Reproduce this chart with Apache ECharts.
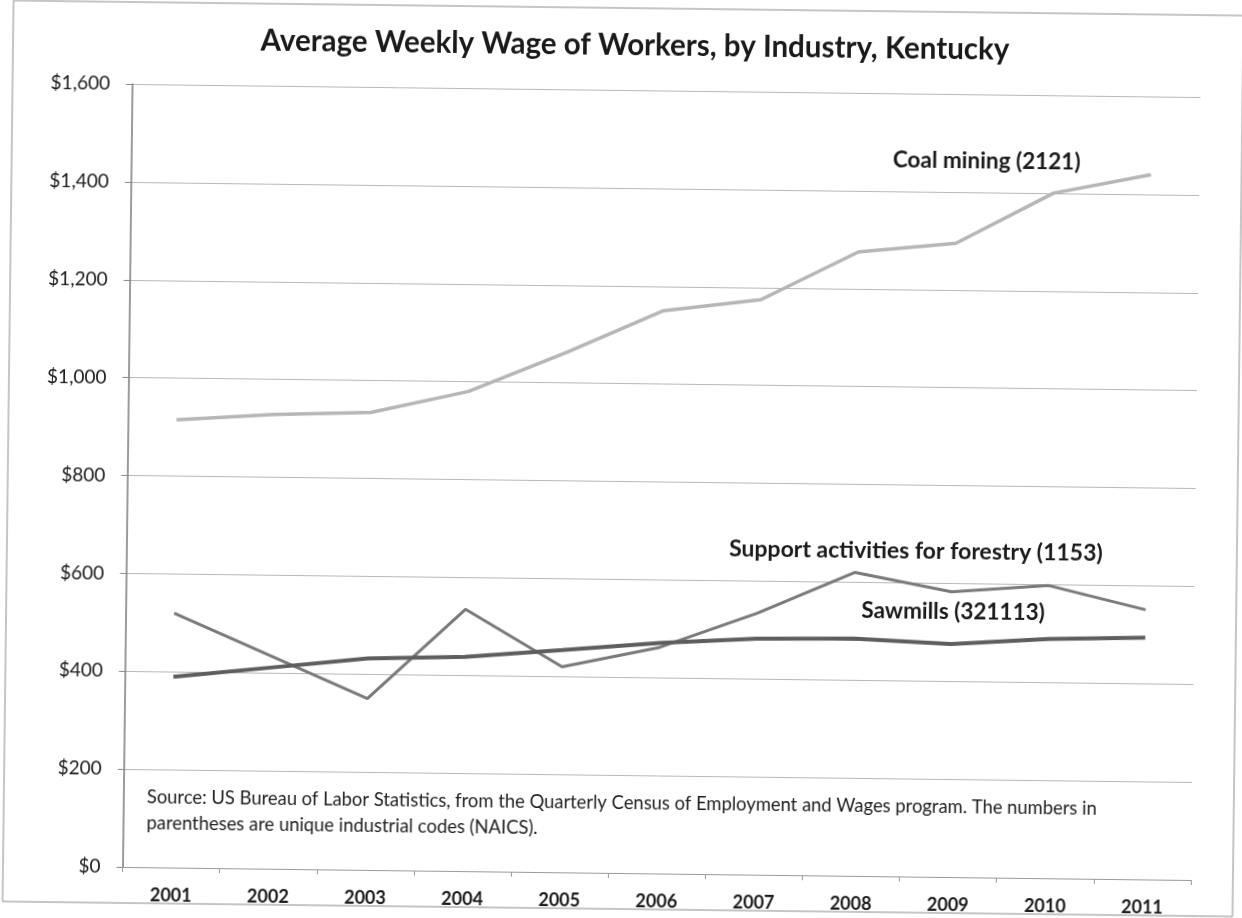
<!DOCTYPE html>
<html>
<head>
<meta charset="utf-8">
<title>Average Weekly Wage of Workers, by Industry, Kentucky</title>
<script src="https://cdn.jsdelivr.net/npm/echarts@6/dist/echarts.min.js"></script>
<style>
  html, body { margin: 0; padding: 0; background: #fff; overflow: hidden; }
  /* the scanned original is slightly tilted clockwise */
  #chart { width: 1242px; height: 918px; transform: rotate(0.7deg); transform-origin: 621px 459px; }
</style>
</head>
<body>
<div id="chart"></div>
<script>
// data
const years = ["2001", "2002", "2003", "2004", "2005", "2006", "2007", "2008", "2009", "2010", "2011"];
const coalMining = [915, 928, 935, 980, 1062, 1150, 1175, 1275, 1295, 1400, 1440];
const forestrySupport = [520, 435, 350, 535, 420, 462, 534, 620, 583, 598, 551];
const sawmills = [390, 411, 432, 438, 454, 471, 482, 485, 476, 489, 494];

const titleText = "Average Weekly Wage of Workers, by Industry, Kentucky";
const sourceLines = [
  "Source: US Bureau of Labor Statistics, from the Quarterly Census of Employment and Wages program. The numbers in",
  "parentheses are unique industrial codes (NAICS).",
];

const font = "Lato, 'Open Sans', sans-serif";
const chart = echarts.init(document.getElementById("chart"));

const option = {
  animation: false,
  backgroundColor: "#fff",
  grid: { left: 127.5, right: 46, top: 90, bottom: 45, containLabel: false },
  xAxis: {
    type: "category",
    data: years,
    boundaryGap: true,
    axisLine: { show: true, lineStyle: { color: "#9a9a9a", width: 1 } },
    axisTick: { show: true, inside: false, length: 5, lineStyle: { color: "#9a9a9a" } },
    axisLabel: { color: "#1a1a1a", fontFamily: font, fontWeight: "bold", fontSize: 18, margin: 19 },
    splitLine: { show: false },
  },
  yAxis: {
    type: "value",
    min: 0,
    max: 1600,
    interval: 200,
    axisLine: { show: true, lineStyle: { color: "#7a7a7a", width: 1.5 } },
    axisTick: { show: true, inside: false, length: 6, lineStyle: { color: "#8a8a8a" } },
    axisLabel: {
      color: "#1a1a1a",
      fontFamily: font,
      fontSize: 19,
      margin: 22,
      formatter: (v) => "$" + v.toLocaleString("en-US"),
    },
    splitLine: { show: true, lineStyle: { color: "#b8b8b8", width: 1 } },
  },
  series: [
    {
      name: "Coal mining (2121)",
      type: "line",
      data: coalMining,
      showSymbol: false,
      symbol: "none",
      lineStyle: { color: "#b6b6b6", width: 3.5 },
      z: 3,
    },
    {
      name: "Support activities for forestry (1153)",
      type: "line",
      data: forestrySupport,
      showSymbol: false,
      symbol: "none",
      lineStyle: { color: "#7a7a7a", width: 3 },
      z: 4,
    },
    {
      name: "Sawmills (321113)",
      type: "line",
      data: sawmills,
      showSymbol: false,
      symbol: "none",
      lineStyle: { color: "#5e5e5e", width: 4 },
      z: 5,
    },
  ],
  graphic: [
    // outer frame of the scanned chart
    {
      type: "rect",
      shape: { x: 8, y: 8, width: 1230, height: 901 },
      style: { fill: null, stroke: "#8c8c8c", lineWidth: 1 },
      silent: true,
    },
    {
      type: "text",
      x: 630,
      y: 45,
      style: {
        text: titleText,
        fill: "#1a1a1a",
        font: "bold 29.5px " + font,
        textAlign: "center",
        textVerticalAlign: "middle",
      },
    },
    {
      type: "text",
      x: 983,
      y: 157,
      style: { text: "Coal mining (2121)", fill: "#1a1a1a", font: "bold 22.5px " + font, textAlign: "center", textVerticalAlign: "middle" },
    },
    {
      type: "text",
      x: 917,
      y: 548,
      style: { text: "Support activities for forestry (1153)", fill: "#1a1a1a", font: "bold 23px " + font, textAlign: "center", textVerticalAlign: "middle" },
    },
    {
      type: "text",
      x: 955,
      y: 608,
      style: { text: "Sawmills (321113)", fill: "#1a1a1a", font: "bold 22.5px " + font, textAlign: "center", textVerticalAlign: "middle" },
    },
    {
      type: "text",
      x: 151,
      y: 803,
      style: { text: sourceLines[0], fill: "#1e1e1e", font: "18.4px " + font, textAlign: "left", textVerticalAlign: "middle" },
    },
    {
      type: "text",
      x: 151,
      y: 829,
      style: { text: sourceLines[1], fill: "#1e1e1e", font: "18.4px " + font, textAlign: "left", textVerticalAlign: "middle" },
    },
  ],
};

chart.setOption(option);
</script>
</body>
</html>
